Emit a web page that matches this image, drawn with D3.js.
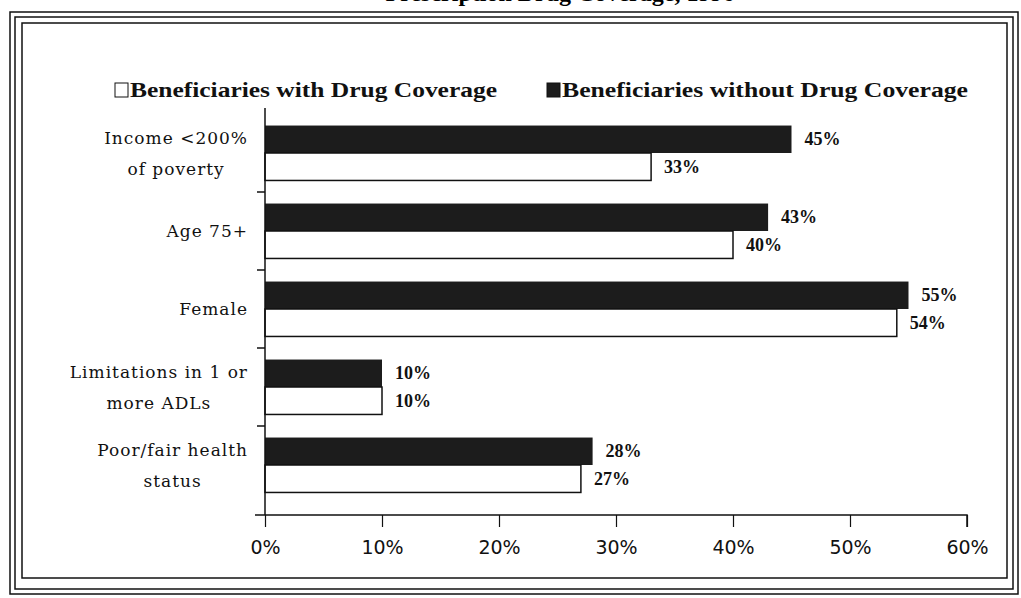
<!DOCTYPE html>
<html>
<head>
<meta charset="utf-8">
<script src="https://cdn.jsdelivr.net/npm/d3@7"></script>
<style>
  body { margin: 0; background: #fff; }
  svg { display: block; }
</style>
</head>
<body>
<div id="container"></div>
<script>
// data
const categories = ["Income <200% of poverty", "Age 75+", "Female", "Limitations in 1 or more ADLs", "Poor/fair health status"]
const labelLines = [["Income <200%", "of poverty"], ["Age 75+"], ["Female"], ["Limitations in 1 or", "more ADLs"], ["Poor/fair health", "status"]]
const withCoverage = [33, 40, 54, 10, 27]
const withoutCoverage = [45, 43, 55, 10, 28]
const seriesNames = ["Beneficiaries with Drug Coverage", "Beneficiaries without Drug Coverage"]
const xTicks = [0, 10, 20, 30, 40, 50, 60]

const width = 1021, height = 598

const svg = d3.select("#container")
  .append("svg")
    .attr("width", width)
    .attr("height", height)

// cut-off title at the very top of the scan
svg.append("text")
  .attr("x", 560).attr("y", 1)
  .attr("text-anchor", "middle")
  .style("font-family", "Liberation Serif").style("font-weight", "bold")
  .style("font-size", "24px")
  .text("Prescription Drug Coverage, 1996")

// frame: double outer line + inner box
const frame = svg.append("g").attr("fill", "none").attr("stroke", "#111")
frame.append("rect").attr("x", 10).attr("y", 12).attr("width", 1008).attr("height", 582).attr("stroke-width", 1.5)
frame.append("rect").attr("x", 15).attr("y", 17).attr("width", 998).attr("height", 572).attr("stroke-width", 1.5)
frame.append("rect").attr("x", 22).attr("y", 23).attr("width", 985).attr("height", 555).attr("stroke-width", 1.5)

// SCALES
const xScale = d3.scaleLinear().domain([0, 60]).range([265, 967])
const yScale = d3.scaleBand().domain(categories).range([114, 504]).padding(0)
const ySub = d3.scaleBand().domain(["without", "with"]).range([0, yScale.bandwidth()])
  .paddingInner(0).paddingOuter(0.42)

// bars
const groups = svg.selectAll("g.cat")
  .data(categories)
  .enter().append("g")
  .attr("class", "cat")
  .attr("transform", d => "translate(0," + yScale(d) + ")")

groups.append("rect")
  .attr("x", xScale(0))
  .attr("y", ySub("without"))
  .attr("width", (d, i) => xScale(withoutCoverage[i]) - xScale(0))
  .attr("height", ySub.bandwidth())
  .attr("fill", "#1c1c1c")

groups.append("rect")
  .attr("x", xScale(0))
  .attr("y", ySub("with"))
  .attr("width", (d, i) => xScale(withCoverage[i]) - xScale(0))
  .attr("height", ySub.bandwidth())
  .attr("fill", "#fff")
  .attr("stroke", "#111")
  .attr("stroke-width", 1.5)

// value labels
const valFont = g => g.style("font-family", "Liberation Serif").style("font-weight", "bold").style("font-size", "18px").attr("fill", "#111")
groups.append("text")
  .attr("x", (d, i) => xScale(withoutCoverage[i]) + 13)
  .attr("y", ySub("without") + ySub.bandwidth() / 2 + 6)
  .call(valFont)
  .text((d, i) => withoutCoverage[i] + "%")
groups.append("text")
  .attr("x", (d, i) => xScale(withCoverage[i]) + 13)
  .attr("y", ySub("with") + ySub.bandwidth() / 2 + 6)
  .call(valFont)
  .text((d, i) => withCoverage[i] + "%")

// category labels (centred block, right edge near the axis)
const lineH = 31
groups.each(function(d, i) {
  const g = d3.select(this)
  const lines = labelLines[i]
  const t = g.append("text")
    .attr("text-anchor", "middle")
    .style("font-family", "DejaVu Serif").style("font-size", "17px")
    .style("letter-spacing", "1px").attr("fill", "#111")
  const top = yScale.bandwidth() / 2 - (lines.length - 1) * lineH / 2 + 6
  lines.forEach((l, k) => t.append("tspan").attr("y", top + k * lineH).text(l))
  const w = d3.max(t.selectAll("tspan").nodes(), n => n.getComputedTextLength())
  t.selectAll("tspan").attr("x", 248 - w / 2)
})

// left axis line with ticks between categories
svg.append("line")
  .attr("x1", xScale(0)).attr("x2", xScale(0))
  .attr("y1", 108).attr("y2", 515)
  .attr("stroke", "#111").attr("stroke-width", 1.5)
svg.selectAll("line.ytick")
  .data(categories.slice(1))
  .enter().append("line")
  .attr("class", "ytick")
  .attr("x1", xScale(0) - 8).attr("x2", xScale(0))
  .attr("y1", d => yScale(d)).attr("y2", d => yScale(d))
  .attr("stroke", "#111").attr("stroke-width", 1.5)

// bottom axis
const xAxis = svg.append("g")
  .attr("transform", "translate(0,515)")
  .call(d3.axisBottom(xScale).tickValues(xTicks).tickSize(12).tickPadding(14).tickFormat(d => d + "%"))
xAxis.select(".domain").attr("stroke", "#111").attr("stroke-width", 1.5)
  .attr("d", "M" + (xScale(0) - 10) + ",0H" + xScale(60) + "V12")
xAxis.selectAll(".tick line").attr("stroke", "#111").attr("stroke-width", 1.2)
xAxis.selectAll(".tick text")
  .style("font-family", "DejaVu Sans").style("font-size", "19px").attr("fill", "#111")

// legend
const legend = svg.append("g").attr("transform", "translate(0,90)")
const legX = [115, 547]
const legW = [367, 406]
seriesNames.forEach((s, i) => {
  legend.append("rect")
    .attr("x", legX[i]).attr("y", -7).attr("width", 13).attr("height", 14)
    .attr("fill", i === 0 ? "#fff" : "#1c1c1c")
    .attr("stroke", "#111").attr("stroke-width", 1)
  legend.append("text")
    .attr("x", legX[i] + 15).attr("y", 7)
    .attr("textLength", legW[i]).attr("lengthAdjust", "spacingAndGlyphs")
    .style("font-family", "Liberation Serif").style("font-weight", "bold").style("font-size", "21px")
    .attr("fill", "#111")
    .text(s)
})
</script>
</body>
</html>
